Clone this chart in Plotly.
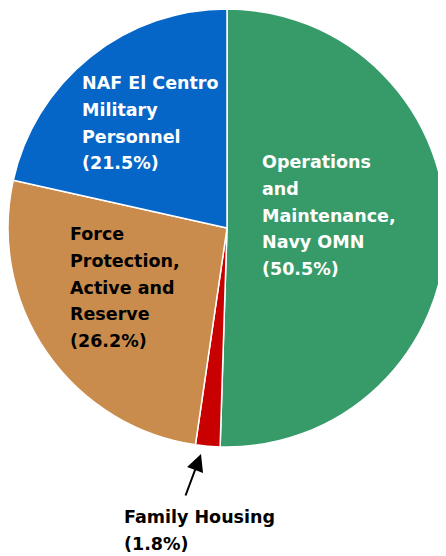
import plotly.graph_objects as go

W, H = 446, 556
OFF = 8  # page body margin around the plot div

labels = ["Operations and Maintenance, Navy OMN", "Family Housing",
          "Force Protection, Active and Reserve", "NAF El Centro Military Personnel"]
shares = [50.5, 1.8, 26.2, 21.5]
colors = ["#379B69", "#C80000", "#C98C4C", "#0566C8"]

# label text blocks (line breaks as in the picture)
label_lines = [
    ["Operations", "and", "Maintenance,", "Navy OMN"],
    ["Family Housing"],
    ["Force", "Protection,", "Active and", "Reserve"],
    ["NAF El Centro", "Military", "Personnel"],
]


def px(x):
    return (x - OFF) / W


def py(y):
    return 1 - (y - OFF) / H


fig = go.Figure()
fig.add_trace(go.Pie(
    labels=labels,
    values=shares,
    sort=False,
    direction="clockwise",
    rotation=0,
    textinfo="none",
    hoverinfo="label+percent",
    marker=dict(colors=colors, line=dict(color="white", width=1.5)),
    domain=dict(x=[px(8), px(446)], y=[py(448), py(8)]),
    showlegend=False,
))

font_main = dict(family="DejaVu Sans, sans-serif", size=17.5, weight="bold")

# (left x, first-line y, text colour) for each label block, page pixels
label_pos = [(260, 162, "white"), (122, 517, "black"), (68, 234, "black"), (80, 83, "white")]
line_step = 26.8

for lines, share, (x, y, c) in zip(label_lines, shares, label_pos):
    for i, line in enumerate(lines + [f"({share}%)"]):
        fig.add_annotation(
            x=px(x), y=py(y + i * line_step), xref="paper", yref="paper",
            text=line, showarrow=False, align="left",
            xanchor="left", yanchor="middle",
            font=dict(color=c, **font_main),
        )

# arrow pointing to the small Family Housing slice
fig.add_annotation(
    x=px(201), y=py(454), xref="paper", yref="paper",
    ax=-16, ay=43, axref="pixel", ayref="pixel",
    text="", showarrow=True, arrowhead=2, arrowsize=1.7,
    arrowwidth=2, arrowcolor="black",
)

fig.update_layout(
    width=W, height=H,
    margin=dict(l=0, r=0, t=0, b=0),
    paper_bgcolor="white",
    plot_bgcolor="white",
)

fig.write_html("out.html")
